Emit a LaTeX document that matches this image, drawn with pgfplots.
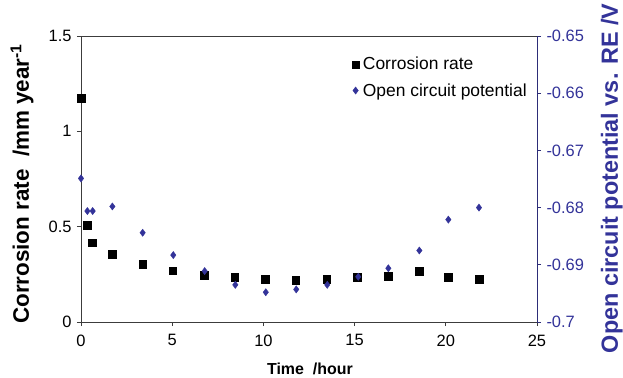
\documentclass[border=0pt]{standalone}
\usepackage{pgfplots}
\pgfplotsset{compat=1.18}
\usepackage{fontspec}
\setmainfont{Liberation Sans}
\definecolor{ocp}{RGB}{51,51,153}
\definecolor{axnavy}{RGB}{45,45,120}
\definecolor{axgray}{RGB}{60,60,60}
\begin{document}
\begin{tikzpicture}
\path[use as bounding box] (-81bp,-56bp) rectangle (542bp,322bp);
\begin{axis}[
  at={(0,0)}, anchor=south west,
  scale only axis, width=456bp, height=286bp,
  xmin=0, xmax=25, ymin=0, ymax=1.5,
  xtick={0,5,10,15,20,25}, ytick={0,0.5,1,1.5},
  xtick pos=bottom, ytick pos=left,
  tick align=outside, major tick length=4bp,
  axis line style={axgray, line width=0.9bp},
  every tick/.style={axgray, line width=0.7bp},
  /pgf/number format/assume math mode=true,
  tick label style={font=\fontsize{16.5}{18}\selectfont},
  xticklabel style={yshift=-5bp},
  yticklabel style={xshift=-2bp},
  xlabel={Time~~/hour},
  xlabel style={at={(axis description cs:0.502,-0.163)}, anchor=center, font=\bfseries\fontsize{16}{18}\selectfont},
  ylabel={Corrosion rate~~/mm year\textsuperscript{-1}},
  ylabel style={at={(axis description cs:-0.129,0.483)}, anchor=center, font=\bfseries\fontsize{22.5}{24}\selectfont},
  clip=false,
]
\addplot[only marks, mark=square*, mark size=3.8bp, black] coordinates {
(0,1.175) (0.35,0.509) (0.6,0.416) (1.7,0.355) (3.38,0.304) (5.03,0.269)
(6.74,0.245) (8.42,0.234) (10.09,0.224) (11.77,0.220) (13.47,0.224)
(15.15,0.234) (16.85,0.240) (18.53,0.267) (20.12,0.234) (21.82,0.224)
};
\end{axis}
\begin{axis}[
  at={(0,0)}, anchor=south west,
  scale only axis, width=456bp, height=286bp,
  xmin=0, xmax=25, ymin=-0.7, ymax=-0.65,
  ytick={-0.7,-0.69,-0.68,-0.67,-0.66,-0.65},
  axis y line*=right, axis x line=none,
  tick align=outside, major tick length=4bp,
  axis line style={axnavy, line width=0.9bp},
  every tick/.style={axnavy, line width=0.7bp},
  /pgf/number format/assume math mode=true,
  /pgf/number format/.cd, fixed, precision=2, /tikz/.cd,
  yticklabel style={font=\fontsize{16.5}{18}\selectfont, text=ocp, xshift=2bp},
  ylabel={Open circuit potential vs. RE /V},
  ylabel style={at={(axis description cs:1.164,0.502)}, anchor=center, rotate=0, text=ocp, font=\bfseries\fontsize{23.5}{25}\selectfont},
  legend style={draw=none, fill=none, at={(axis cs:14.7,-0.6530)}, anchor=north west,
    font=\fontsize{17.5}{19}\selectfont, row sep=8bp, legend cell align=left,
    nodes={inner xsep=4bp}},
  legend image code/.code={\draw[#1] plot coordinates {(0.1cm,0cm)};},
  clip=false,
]
\addlegendimage{only marks, mark=square*, mark size=3.3bp, black}
\addlegendentry{Corrosion rate}
\addplot[only marks, mark=diamond*, mark size=3.6bp, ocp] coordinates {
(0,-0.6749) (0.35,-0.6806) (0.64,-0.6806) (1.72,-0.6798) (3.38,-0.6844)
(5.06,-0.6883) (6.78,-0.6911) (8.46,-0.6935) (10.13,-0.6948) (11.8,-0.6943)
(13.5,-0.6935) (15.2,-0.6921) (16.85,-0.6906) (18.55,-0.6875)
(20.14,-0.6821) (21.82,-0.6800)
};
\addlegendentry{Open circuit potential}
\end{axis}
\end{tikzpicture}
\end{document}
